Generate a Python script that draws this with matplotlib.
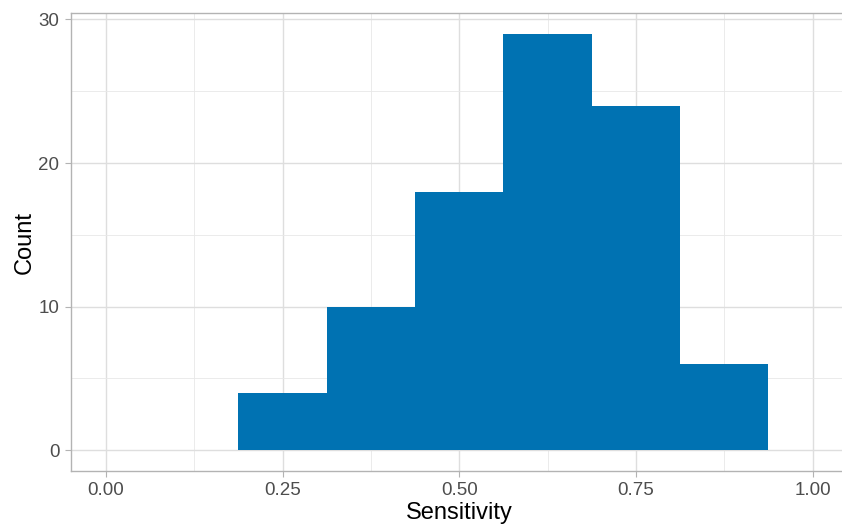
import numpy as np
import matplotlib.pyplot as plt
from matplotlib.ticker import MultipleLocator

# histogram bins
bin_edges = [0.1875, 0.3125, 0.4375, 0.5625, 0.6875, 0.8125, 0.9375]
counts = [4, 10, 18, 29, 24, 6]

x_ticks = [0.00, 0.25, 0.50, 0.75, 1.00]
x_tick_labels = ['0.00', '0.25', '0.50', '0.75', '1.00']
y_ticks = [0, 10, 20, 30]

plt.rcParams['font.family'] = ['Liberation Sans', 'DejaVu Sans']

fig = plt.figure(figsize=(8.42, 5.32), dpi=100)
# panel runs past the right edge of the image, as in the reference
ax = fig.add_axes([70.5 / 842, 1 - 471 / 532, (848 - 70.5) / 842, (471 - 13) / 532])

ax.hist(bin_edges[:-1], bins=bin_edges, weights=counts, color='#0072B2',
        edgecolor='none', zorder=3)

ax.set_xlim(-0.05, 1.05)
ax.set_ylim(-1.45, 30.45)
ax.set_xticks(x_ticks)
ax.set_xticklabels(x_tick_labels)
ax.set_yticks(y_ticks)
ax.xaxis.set_minor_locator(MultipleLocator(0.125))
ax.yaxis.set_minor_locator(MultipleLocator(5))

ax.grid(which='major', color='#DEDEDE', linewidth=1.0, zorder=0)
ax.grid(which='minor', color='#E8E8E8', linewidth=0.6, zorder=0)
ax.set_axisbelow(True)

for s in ax.spines.values():
    s.set_color('#B3B3B3')
    s.set_linewidth(1.0)

ax.tick_params(which='major', length=4, width=0.8, color='#B3B3B3',
               labelsize=13.5, labelcolor='#4D4D4D', pad=4)
ax.tick_params(which='minor', length=0)

ax.set_xlabel('Sensitivity', fontsize=17, color='black', labelpad=2)
ax.set_ylabel('Count', fontsize=17, color='black', labelpad=2)

fig.savefig('out.png', dpi=100)
